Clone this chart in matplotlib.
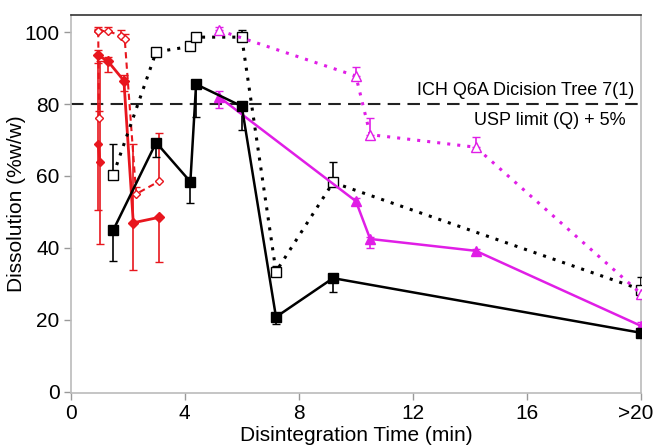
import matplotlib
matplotlib.use("Agg")
import matplotlib.pyplot as plt
from matplotlib.transforms import ScaledTranslation

plt.rcParams['font.family'] = ['Liberation Sans', 'DejaVu Sans']

# black, filled squares (solid line)
neg_x = [1.5, 3.0, 4.2, 4.4, 6.0, 7.2, 9.2, 20.0]
neg_y = [45.0, 69.3, 58.4, 85.5, 79.4, 20.8, 31.6, 16.4]
neg_lo = [8.5, 4.0, 6.0, 9.0, 6.5, 2.0, 3.8, 0.8]
neg_hi = [0.0, 0.5, 0.0, 0.0, 0.0, 1.0, 0.0, 0.0]

# black, open squares (dotted line)
neg2_x = [1.5, 3.0, 4.2, 4.4, 6.0, 7.2, 9.2, 20.0]
neg2_y = [60.4, 94.5, 96.0, 98.6, 98.6, 33.4, 58.2, 28.4]
neg2_lo = [0.0, 0.5, 0.5, 0.5, 0.0, 0.5, 0.0, 0.0]
neg2_hi = [8.5, 1.0, 1.0, 1.0, 2.0, 1.5, 5.8, 3.5]

# magenta, filled triangles (solid line)
mag_x = [5.2, 10.0, 10.5, 14.2, 20.0]
mag_y = [82.0, 53.0, 42.5, 39.2, 18.3]
mag_lo = [3.0, 1.0, 2.5, 0.5, 0.5]
mag_hi = [1.5, 1.0, 0.5, 0.5, 1.0]

# magenta, open triangles (dotted line)
mag2_x = [5.2, 10.0, 10.5, 14.2, 20.0]
mag2_y = [100.5, 87.8, 71.5, 68.0, 27.2]
mag2_lo = [0.0, 0.0, 0.0, 0.0, 0.0]
mag2_hi = [1.0, 2.5, 4.5, 2.8, 1.8]

# red, filled diamonds (solid lines)
red_x = [0.97, 1.3, 1.87, 2.2, 3.1]
red_y = [93.5, 92.0, 86.5, 47.0, 48.5]
red_lo = [2.0, 3.0, 3.0, 13.0, 12.5]
red_hi = [1.5, 1.0, 1.5, 22.0, 0.0]

red2_x = [0.97, 1.03]
red2_y = [69.0, 64.0]
red2_lo = [18.5, 23.0]
red2_hi = [24.5, 28.0]

# red, open diamonds (dashed lines)
red3_x = [0.97, 1.3, 1.77, 1.9, 2.3, 3.1]
red3_y = [100.3, 100.3, 99.0, 98.0, 55.0, 58.5]
red3_lo = [0.0, 0.0, 0.0, 0.0, 0.0, 0.0]
red3_hi = [1.0, 1.0, 1.5, 1.5, 2.0, 13.5]

red4_x = [0.97, 1.0]
red4_y = [100.3, 76.0]
red4_lo = [0.0, 0.0]
red4_hi = [0.5, 2.0]

xticks = [0, 4, 8, 12, 16, 20]
xticklabels = ['0', '4', '8', '12', '16', '>20']
yticks = [0, 20, 40, 60, 80, 100]

ROJO = '#e8161e'
MAG = '#e01ee6'
DOT = (0, (1, 2.3))


def serie(ax, x, y, lo, hi, color, marker, ls, lw, ms, filled=True):
    ax.errorbar(x, y, yerr=[lo, hi], color=color, ls=ls, lw=lw,
                marker=marker, ms=ms,
                mfc=color if filled else 'white', mec=color, mew=1.0,
                ecolor=color, elinewidth=1.2, capsize=3, capthick=1.2,
                zorder=3)


fig = plt.figure(figsize=(6.53, 4.47), dpi=100)
ax = fig.add_axes([0.108, 0.121, 0.874, 0.845])

ax.axhline(80, color='#222222', lw=1.5, ls=(0, (6, 3.5)), zorder=1)

serie(ax, red2_x, red2_y, red2_lo, red2_hi, ROJO, 'D', '-', 2.0, 4.5)
serie(ax, red4_x, red4_y, red4_lo, red4_hi, ROJO, 'D', (0, (3, 2)), 1.5, 4.5, filled=False)
serie(ax, red3_x, red3_y, red3_lo, red3_hi, ROJO, 'D', (0, (3, 2)), 1.5, 4.5, filled=False)
serie(ax, red_x, red_y, red_lo, red_hi, ROJO, 'D', '-', 2.0, 5)
serie(ax, neg2_x, neg2_y, neg2_lo, neg2_hi, 'black', 's', DOT, 2.2, 6.5, filled=False)
serie(ax, mag2_x, mag2_y, mag2_lo, mag2_hi, MAG, '^', DOT, 2.2, 6.5, filled=False)
serie(ax, mag_x, mag_y, mag_lo, mag_hi, MAG, '^', '-', 1.8, 6.5)
serie(ax, neg_x, neg_y, neg_lo, neg_hi, 'black', 's', '-', 1.8, 7.2)

ax.text(19.75, 83.9, 'ICH Q6A Dicision Tree 7(1)', ha='right', va='center', fontsize=13)
ax.text(19.45, 75.3, 'USP limit (Q) + 5%', ha='right', va='center', fontsize=13)

ax.set_xlim(0, 20)
ax.set_ylim(-0.3, 104.7)
ax.set_xticks(xticks)
ax.set_xticklabels(xticklabels)
ax.set_yticks(yticks)
ax.tick_params(labelsize=15, color='#999999', length=5, width=1, pad=3)
ax.set_xlabel('Disintegration Time (min)', fontsize=15, labelpad=2)
ax.set_ylabel('Dissolution (%w/w)', fontsize=15, labelpad=-1)

# la ultima etiqueta (>20) se corre a la izquierda para que no se corte
ult = ax.get_xticklabels()[-1]
ult.set_horizontalalignment('right')
ult.set_transform(ult.get_transform() + ScaledTranslation(12 / 100, 0, fig.dpi_scale_trans))

for lado in ['left', 'bottom', 'right']:
    ax.spines[lado].set_color('#bbbbbb')
    ax.spines[lado].set_linewidth(1.2)
ax.spines['top'].set_color('#333333')
ax.spines['top'].set_linewidth(1.2)

fig.savefig('out.png', dpi=100)
